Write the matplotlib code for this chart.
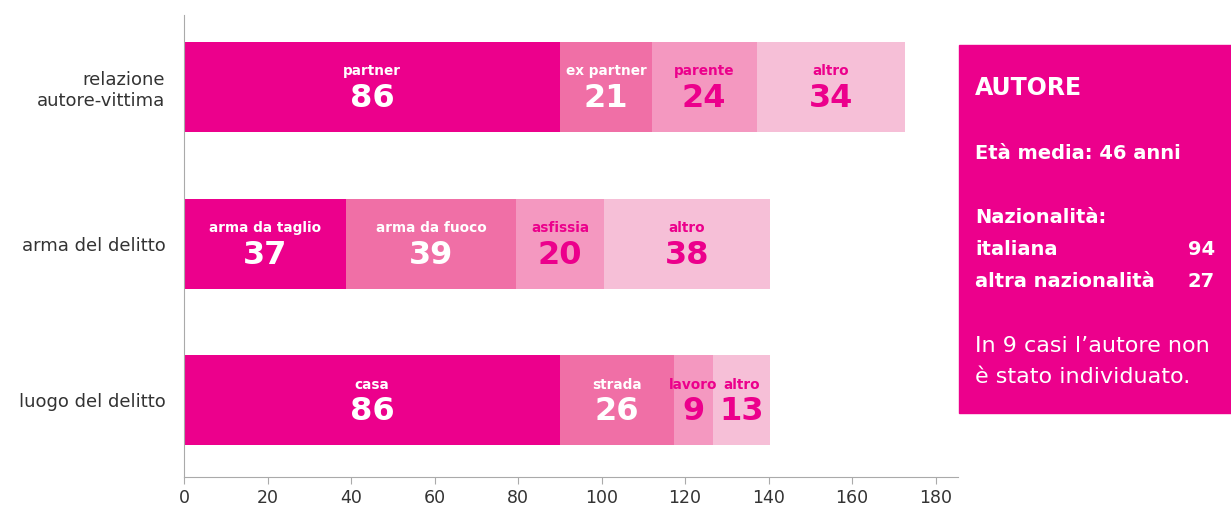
import matplotlib
matplotlib.use("Agg")
import matplotlib.pyplot as plt
from matplotlib.patches import Rectangle
import numpy as np

plt.rcParams['font.family'] = ['DejaVu Sans']

# dati
categories = ['relazione\nautore-vittima', 'arma del delitto', 'luogo del delitto']
segment_names = [
    ['partner', 'ex partner', 'parente', 'altro'],
    ['arma da taglio', 'arma da fuoco', 'asfissia', 'altro'],
    ['casa', 'strada', 'lavoro', 'altro'],
]
segment_values = [
    [86, 21, 24, 34],
    [37, 39, 20, 38],
    [86, 26, 9, 13],
]
xticks = [0, 20, 40, 60, 80, 100, 120, 140, 160, 180]

# the original graphic draws the bars slightly stretched vs. its axis
SCALE = 1.047

colors = ['#EC008C', '#F06FA6', '#F498C0', '#F6BFD7']
text_colors = ['white', 'white', '#EC008C', '#EC008C']
MAGENTA = '#EC008C'

fig = plt.figure(figsize=(12.31, 5.07), dpi=100)
ax = fig.add_axes([0.1495, 0.0592, 0.6285, 0.9112])

for i, (names, vals) in enumerate(zip(segment_names, segment_values)):
    left = 0
    for j, (name, v) in enumerate(zip(names, vals)):
        w = v * SCALE
        ax.barh(i, w, left=left, height=0.575, color=colors[j], linewidth=0)
        cx = left + w / 2
        ax.text(cx, i - 0.10, name, ha='center', va='center', fontsize=9.8,
                fontweight='bold', color=text_colors[j])
        ax.text(cx, i + 0.075, str(v), ha='center', va='center', fontsize=23,
                fontweight='bold', color=text_colors[j])
        left += w

ax.set_ylim(2.49, -0.46)
ax.set_xlim(0, 185.3)
ax.set_yticks(range(len(categories)))
ax.set_yticklabels(categories, fontsize=13, color='#333333', linespacing=1.2)
ax.tick_params(axis='y', length=0, pad=13.5)
ax.set_xticks(xticks)
ax.tick_params(axis='x', length=5, color='#aaaaaa', labelsize=12.5, labelcolor='#333333', pad=4)

for s in ['top', 'right']:
    ax.spines[s].set_visible(False)
ax.spines['left'].set_color('#aaaaaa')
ax.spines['bottom'].set_color('#aaaaaa')

# riquadro autore
W, H = 1231, 507
fig.patches.append(Rectangle((959 / W, 1 - 413 / H), (1231 - 959) / W, (413 - 45) / H,
                             transform=fig.transFigure, color=MAGENTA, zorder=0))
tx = 975 / W
rx = 1215 / W
def ty(y):
    return 1 - y / H

fig.text(tx, ty(95), 'AUTORE', fontsize=17, fontweight='bold', color='white', va='baseline')
fig.text(tx, ty(159), 'Età media: 46 anni', fontsize=14, fontweight='bold', color='white', va='baseline')
fig.text(tx, ty(223), 'Nazionalità:', fontsize=14, fontweight='bold', color='white', va='baseline')
fig.text(tx, ty(255), 'italiana', fontsize=14, fontweight='bold', color='white', va='baseline')
fig.text(rx, ty(255), '94', fontsize=14, fontweight='bold', color='white', va='baseline', ha='right')
fig.text(tx, ty(287), 'altra nazionalità', fontsize=14, fontweight='bold', color='white', va='baseline')
fig.text(rx, ty(287), '27', fontsize=14, fontweight='bold', color='white', va='baseline', ha='right')
fig.text(tx, ty(352), 'In 9 casi l’autore non', fontsize=16, color='white', va='baseline')
fig.text(tx, ty(383), 'è stato individuato.', fontsize=16, color='white', va='baseline')

fig.savefig('out.png', dpi=100)
